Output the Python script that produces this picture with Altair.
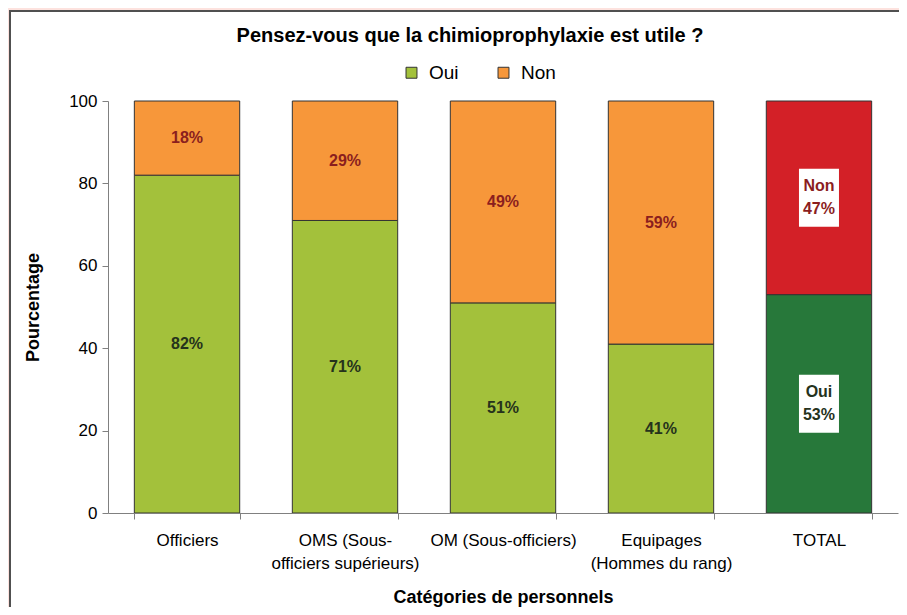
import json
import altair as alt
import pandas as pd

categories = ["Officiers", "OMS (Sous-officiers supérieurs)", "OM (Sous-officiers)",
              "Equipages (Hommes du rang)", "TOTAL"]
tick_labels = [["Officiers"], ["OMS (Sous-", "officiers supérieurs)"], ["OM (Sous-officiers)"],
               ["Equipages", "(Hommes du rang)"], ["TOTAL"]]
oui = [82, 71, 51, 41, 53]
non = [18, 29, 49, 59, 47]
series = ["Oui", "Non"]
y_ticks = [0, 20, 40, 60, 80, 100]

rows = []
for c, o, n in zip(categories, oui, non):
    total = c == "TOTAL"
    rows.append(dict(cat=c, serie="Oui", value=o, y0=0, y1=o,
                     key="Oui TOTAL" if total else "Oui",
                     txt=(f"Oui\n{o}%" if total else f"{o}%")))
    rows.append(dict(cat=c, serie="Non", value=n, y0=o, y1=o + n,
                     key="Non TOTAL" if total else "Non",
                     txt=(f"Non\n{n}%" if total else f"{n}%")))
df = pd.DataFrame(rows)
df["mid"] = (df["y0"] + df["y1"]) / 2

expr = "''"
for c, lab in reversed(list(zip(categories, tick_labels))):
    expr = f"datum.label == {json.dumps(c)} ? {json.dumps(lab)} : ({expr})"

W, H = 790, 412

x_enc = alt.X("cat:N", sort=categories,
              scale=alt.Scale(domain=categories, paddingInner=0.333, paddingOuter=0.1667),
              axis=alt.Axis(title="Catégories de personnels", labelAngle=0,
                            labelExpr=expr, tickBand="extent", tickSize=6,
                            labelPadding=13, labelLineHeight=23, titlePadding=17, zindex=2))
y_enc = alt.Y("y0:Q", scale=alt.Scale(domain=[0, 100], nice=False),
              axis=alt.Axis(title="Pourcentage", values=y_ticks, tickSize=6,
                            labelPadding=5, titlePadding=26, grid=False, zindex=2))

panel = alt.Chart(pd.DataFrame({"a": [0]})).mark_rect(
    fill="white", stroke="#505050", strokeWidth=2
).encode(x=alt.value(-98), x2=alt.value(W + 40), y=alt.value(-90), y2=alt.value(H + 120))

bars = alt.Chart(df).mark_bar(stroke="#333333", strokeWidth=1).encode(
    x=x_enc,
    y=y_enc,
    y2="y1:Q",
    color=alt.Color("key:N",
                    scale=alt.Scale(domain=["Oui", "Non", "Oui TOTAL", "Non TOTAL"],
                                    range=["#a3c13b", "#f7973a", "#27783a", "#d32027"]),
                    legend=alt.Legend(values=series, title=None, orient="none",
                                      direction="horizontal", legendX=294, legendY=-38,
                                      symbolType="square", symbolSize=120,
                                      symbolStrokeColor="#333333", symbolStrokeWidth=1,
                                      labelFontSize=19, labelOffset=8, columnPadding=35,
                                      padding=0, zindex=2)),
)

boxes = alt.Chart(df).transform_filter(alt.datum.cat == "TOTAL").mark_point(
    shape="M-1,-1.45L1,-1.45L1,1.45L-1,1.45Z", size=1600, filled=True,
    fill="white", opacity=1, strokeWidth=0
).encode(x=alt.X("cat:N", sort=categories), y=alt.Y("mid:Q"))

label_color = alt.condition(alt.datum.serie == "Oui", alt.value("#25321c"), alt.value("#8b1e1e"))

labels = alt.Chart(df).transform_filter(alt.datum.cat != "TOTAL").mark_text(
    fontSize=16, fontWeight="bold", baseline="middle").encode(
    x=alt.X("cat:N", sort=categories), y=alt.Y("mid:Q"), text="txt:N", color=label_color)

labels_total = alt.Chart(df).transform_filter(alt.datum.cat == "TOTAL").mark_text(
    fontSize=16, fontWeight="bold", lineBreak="\n", lineHeight=23, baseline="middle",
    dy=-11.5).encode(
    x=alt.X("cat:N", sort=categories), y=alt.Y("mid:Q"), text="txt:N", color=label_color)

chart = alt.layer(panel, bars, boxes, labels, labels_total).properties(
    width=W, height=H,
    autosize=alt.AutoSizeParams(type="none"),
    padding={"left": 100, "top": 93, "right": 1, "bottom": 94},
    background="#fde2de",
    title=alt.TitleParams("Pensez-vous que la chimioprophylaxie est utile ?",
                          fontSize=20, fontWeight="bold", anchor="middle", dx=-33,
                          offset=-56, baseline="bottom", color="black"),
).configure(font="Liberation Sans").configure_view(stroke=None).configure_axis(
    labelFontSize=17, titleFontSize=18, titleFontWeight="bold", labelColor="black",
    titleColor="black", domainColor="#808080", tickColor="#808080", labelFont="Liberation Sans",
).configure_legend(labelFont="Liberation Sans", labelColor="black")

chart.save("out.html", embed_options={"renderer": "svg", "actions": False})
